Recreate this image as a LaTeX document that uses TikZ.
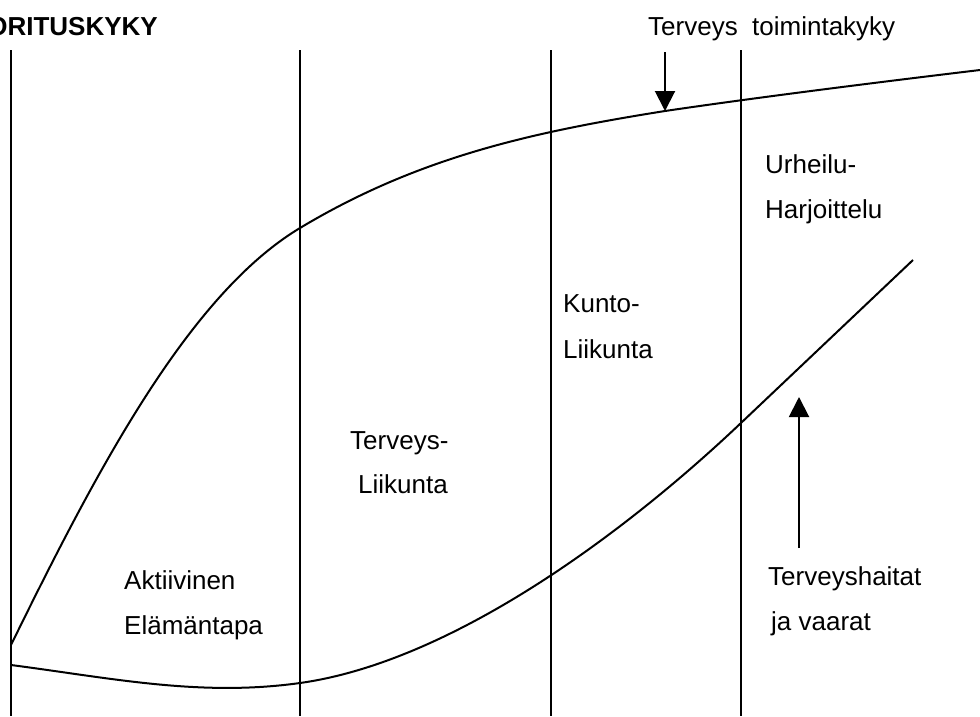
\documentclass[tikz,border=0pt]{standalone}
\usepackage{fontspec}
\setmainfont{Liberation Sans}
\usetikzlibrary{arrows.meta}
\begin{document}
\begin{tikzpicture}[x=1pt,y=-1pt,
  lbl/.style={anchor=base west,inner sep=0pt,font=\fontsize{26}{30}\selectfont},
  ttl/.style={anchor=base east,inner sep=0pt,font=\fontsize{26}{30}\selectfont\bfseries},
  vline/.style={line width=1.8pt},
  curve/.style={line width=2pt,line join=round},
  arr/.style={line width=2pt,-{Triangle[width=20pt,length=20pt]}}]
\useasboundingbox (0,0) rectangle (980,716);
% vertical divider lines
\foreach \n/\x in {v1/11,v2/300,v3/551,v4/741}{
  \coordinate (\n t) at (\x,50);
  \coordinate (\n b) at (\x,716);
  \draw[vline] (\n t) -- (\n b);
}
% upper curve
\draw[curve] (11,645) .. controls (97,469.5) and (189,294.6) .. (300,228)
  .. controls (420,156) and (535,131.8) .. (665,111)
  .. controls (760,97) and (880,82) .. (980,70);
% lower curve
\draw[curve] (11,665) .. controls (111,678) and (200,697) .. (300,683)
  .. controls (450,662) and (622,536) .. (742,422)
  -- (913,260);
% labels
\node[ttl] (title) at (158,35) {ORITUSKYKY};
\node[lbl] (tk) at (648,35) {Terveys~ toimintakyky};
\node[lbl] (u1) at (765,173) {Urheilu-};
\node[lbl] (u2) at (765,218) {Harjoittelu};
\node[lbl] (k1) at (563,312) {Kunto-};
\node[lbl] (k2) at (563,358) {Liikunta};
\node[lbl] (t1) at (350,449) {Terveys-};
\node[lbl] (t2) at (358,493) {Liikunta};
\node[lbl] (a1) at (124,589) {Aktiivinen};
\node[lbl] (a2) at (124,634) {Elämäntapa};
\node[lbl] (h1) at (768,585) {Terveyshaitat};
\node[lbl] (h2) at (771,630) {ja vaarat};
% arrows
\coordinate (dA) at (665,52);
\coordinate (dB) at (665,111);
\draw[arr] (dA) -- (dB);
\coordinate (uA) at (799,548);
\coordinate (uB) at (799,397);
\draw[arr] (uA) -- (uB);
\end{tikzpicture}
\end{document}
